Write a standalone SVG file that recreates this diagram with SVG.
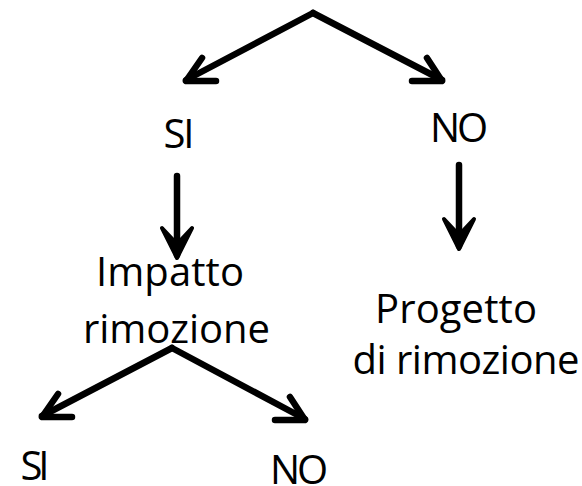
<svg xmlns="http://www.w3.org/2000/svg" width="582" height="486" viewBox="0 0 582 486">
<style>
.t{font-family:"Open Sans","Liberation Sans",sans-serif;font-size:40px;fill:#000;text-anchor:middle}
.c{fill:none;stroke:#000;stroke-width:6.5;stroke-linecap:round;stroke-linejoin:round}
</style>
<rect width="582" height="486" fill="#fff"/>
<g id="connectors">
<polyline class="c" points="313,13 186,80"/>
<polyline class="c" points="202,58 186,81 216,81"/>
<polyline class="c" points="313,13 442,80"/>
<polyline class="c" points="427,58 442,81 412,81"/>
<line class="c" x1="177" y1="176" x2="177" y2="255" stroke-linecap="butt"/>
<polygon points="162,228 177,258 192,228 177,244" fill="#000" stroke="#000" stroke-width="4" stroke-linejoin="round"/>
<line class="c" x1="459" y1="165" x2="459" y2="246" stroke-linecap="butt"/>
<polygon points="444,219 459,249 474,219 459,235" fill="#000" stroke="#000" stroke-width="4" stroke-linejoin="round"/>
<polyline class="c" points="172,348 42,416"/>
<polyline class="c" points="58,394 42,417 72,417"/>
<polyline class="c" points="172,348 305,419"/>
<polyline class="c" points="290,397 305,420 275,420"/>
</g>
<g id="n1"><text class="t" x="179" y="148" textLength="31">SI</text></g>
<g id="n2"><text class="t" x="459" y="142" textLength="58">NO</text></g>
<g id="n3"><text class="t" x="170" y="286" textLength="148">Impatto</text><text class="t" x="176.5" y="343" textLength="187">rimozione</text></g>
<g id="n4"><text class="t" x="456" y="323" textLength="162">Progetto</text><text class="t" x="466" y="374" textLength="227">di rimozione</text></g>
<g id="n5"><text class="t" x="35" y="480" textLength="29">SI</text></g>
<g id="n6"><text class="t" x="299" y="484" textLength="58">NO</text></g>
</svg>
